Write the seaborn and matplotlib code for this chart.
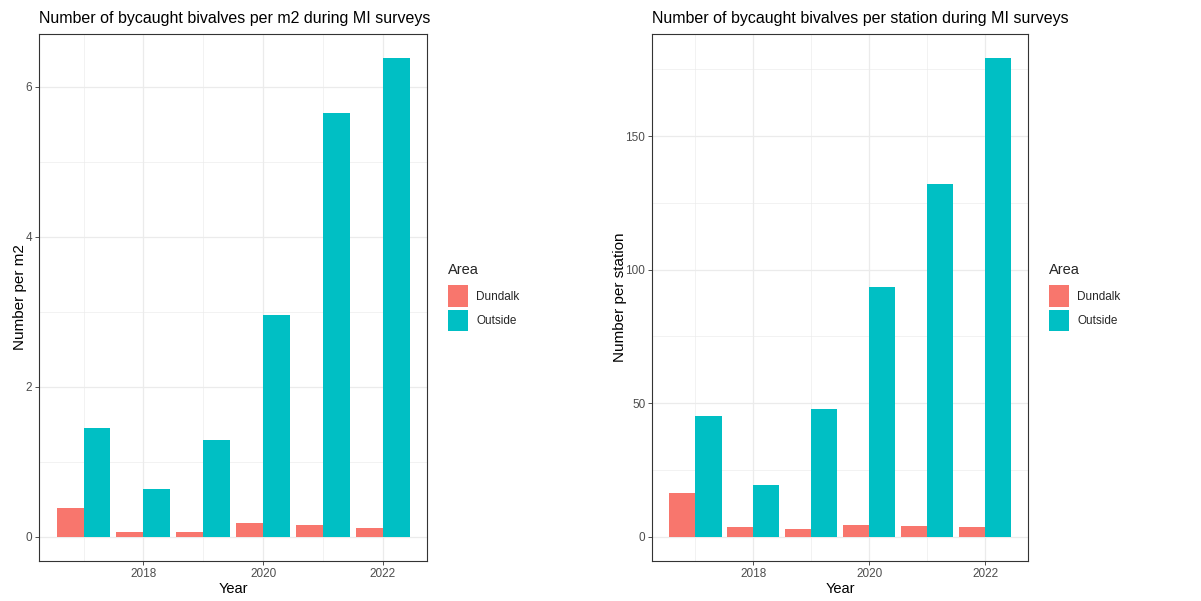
import numpy as np
import pandas as pd
import matplotlib
matplotlib.use("Agg")
import matplotlib.pyplot as plt
from matplotlib.ticker import FixedLocator
from matplotlib.patches import Patch
import seaborn as sns

# Survey data
years = [2017, 2018, 2019, 2020, 2021, 2022]
areas = ["Dundalk", "Outside"]
per_m2_dundalk = [0.39, 0.067, 0.07, 0.187, 0.156, 0.116]
per_m2_outside = [1.455, 0.64, 1.295, 2.96, 5.65, 6.38]
per_station_dundalk = [16.3, 3.5, 2.9, 4.3, 3.9, 3.6]
per_station_outside = [45.1, 19.4, 47.9, 93.5, 132.1, 179.2]

colors = {"Dundalk": "#F8766D", "Outside": "#00BFC4"}

sns.set_theme(style="white")
plt.rcParams["font.family"] = ["Liberation Sans", "DejaVu Sans"]


def long_frame(dundalk, outside):
    return pd.DataFrame({
        "Year": years * 2,
        "Area": ["Dundalk"] * len(years) + ["Outside"] * len(years),
        "value": list(dundalk) + list(outside),
    })


fig = plt.figure(figsize=(12.01, 6.01), dpi=100)
W, H = 1201, 601
ax1 = fig.add_axes([39 / W, 1 - 560.7 / H, (427.3 - 39) / W, (560.7 - 34.3) / H])
ax2 = fig.add_axes([652.3 / W, 1 - 560.7 / H, (1028.3 - 652.3) / W, (560.7 - 34.3) / H])

panels = [
    (ax1, long_frame(per_m2_dundalk, per_m2_outside),
     "Number of bycaught bivalves per m2 during MI surveys", "Number per m2",
     [0, 2, 4, 6], [1, 3, 5], 448, -0.030),
    (ax2, long_frame(per_station_dundalk, per_station_outside),
     "Number of bycaught bivalves per station during MI surveys", "Number per station",
     [0, 50, 100, 150], [25, 75, 125, 175], 1049, -0.068),
]

for ax, df, title, ylabel, yticks, yminor, leg_x, ylab_x in panels:
    sns.barplot(data=df, x="Year", y="value", hue="Area", hue_order=areas,
                palette=colors, native_scale=True, width=0.9, gap=0,
                saturation=1, linewidth=0, errorbar=None, legend=False, ax=ax)

    ymax = df["value"].max()
    ax.set_ylim(-0.05 * ymax, 1.05 * ymax)
    ax.set_xlim(2016.255, 2022.745)

    ax.xaxis.set_major_locator(FixedLocator([2018, 2020, 2022]))
    ax.xaxis.set_minor_locator(FixedLocator([2017, 2019, 2021]))
    ax.yaxis.set_major_locator(FixedLocator(yticks))
    ax.yaxis.set_minor_locator(FixedLocator(yminor))
    ax.set_xticklabels(["2018", "2020", "2022"])

    ax.set_axisbelow(True)
    ax.grid(which="major", color="#EBEBEB", linewidth=0.9)
    ax.grid(which="minor", color="#EBEBEB", linewidth=0.45)

    for sp in ax.spines.values():
        sp.set_visible(True)
        sp.set_color("#333333")
        sp.set_linewidth(0.8)

    ax.tick_params(which="major", length=3, width=0.6, color="#333333",
                   labelsize=8.5, labelcolor="#4D4D4D", pad=2,
                   bottom=True, left=True)
    ax.tick_params(which="minor", length=0)

    ax.set_title(title, loc="left", fontsize=11.5, color="black", pad=8)
    ax.set_xlabel("Year", fontsize=10.5, color="black")
    ax.set_ylabel(ylabel, fontsize=11, color="black")
    ax.xaxis.set_label_coords(0.5, -0.040)
    ax.yaxis.set_label_coords(ylab_x, 0.5)

    handles = [Patch(facecolor=colors[a], edgecolor="none") for a in areas]
    leg = ax.legend(handles, areas, title="Area", loc="upper left",
                    bbox_to_anchor=(leg_x / W, 1 - 263 / H),
                    bbox_transform=fig.transFigure, frameon=False,
                    fontsize=8.5, title_fontsize=10.5, handlelength=1.7,
                    handleheight=2.4, labelspacing=0.25, handletextpad=0.7,
                    borderpad=0, borderaxespad=0, alignment="left")
    # extra room between the legend title and its keys
    leg._legend_box.sep = 6

fig.savefig("out.png", dpi=100, facecolor="white")
